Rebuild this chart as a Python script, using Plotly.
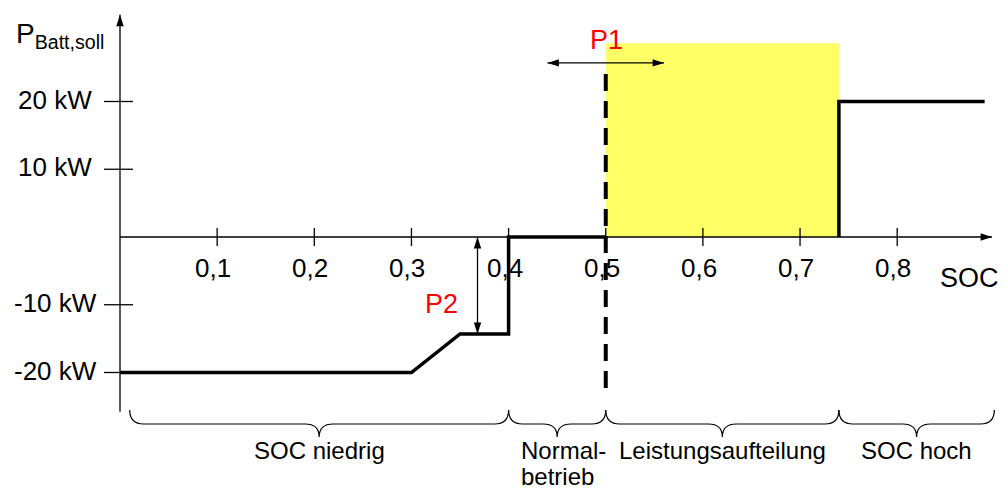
import plotly.graph_objects as go

# ---- data -------------------------------------------------------------
soc_low = [0.0, 0.30, 0.35, 0.40, 0.40, 0.50]
p_low = [-20, -20, -14.3, -14.3, 0, 0]
soc_high = [0.74, 0.74, 0.89]
p_high = [0, 20, 20]

x_ticks = [0.1, 0.2, 0.3, 0.4, 0.5, 0.6, 0.7, 0.8]
x_tick_labels = ["0,1", "0,2", "0,3", "0,4", "0,5", "0,6", "0,7", "0,8"]
y_ticks = [20, 10, -10, -20]
y_tick_labels = ["20 kW", "10 kW", "-10 kW", "-20 kW"]

zone_bounds = [0.01, 0.40, 0.50, 0.74, 0.90]
zone_names = ["SOC niedrig", "Normalbetrieb", "Leistungsaufteilung", "SOC hoch"]

split_band = [0.50, 0.74]      # power-split region
split_top = 28.6
p1_soc = 0.50                  # shiftable threshold P1
p1_span = [0.44, 0.56]
p1_level = 25.7
p2_soc = 0.368                 # reduced charge power P2
p2_span = [0.0, -14.3]

# ---- geometry -----------------------------------------------------------
W, H = 1005, 489
X0_PX, X_SCALE = 120, 971.5      # px of SOC=0, px per SOC unit
Y0_PX, Y_SCALE = 237, 6.775      # px of 0 kW, px per kW
x_range = [-X0_PX / X_SCALE, (W - X0_PX) / X_SCALE]
y_range = [-(H - Y0_PX) / Y_SCALE, Y0_PX / Y_SCALE]
x_end = 0.8976
y_bottom, y_top = -25.8, 32.8

FONT = "Liberation Sans, Arial, sans-serif"
RED = "#ff0000"


def dx(px):
    return px / X_SCALE


fig = go.Figure()


def arrow_line(xs, ys, heads, width=1.3, size=12):
    """Thin line with arrow markers; heads maps point index -> marker angle."""
    fig.add_trace(go.Scatter(x=xs, y=ys, mode="lines",
                             line=dict(color="black", width=width), hoverinfo="skip"))
    idx = list(heads)
    fig.add_trace(go.Scatter(x=[xs[i] for i in idx], y=[ys[i] for i in idx], mode="markers",
                             marker=dict(symbol="arrow", size=size, color="black",
                                         angle=[heads[i] for i in idx],
                                         line=dict(width=0)),
                             hoverinfo="skip"))


# coordinate axes
arrow_line([0, x_end], [0, 0], {1: 90}, size=12)
arrow_line([0, 0], [y_bottom, y_top], {1: 0}, size=12)

# step characteristic
fig.add_trace(go.Scatter(x=soc_low, y=p_low, mode="lines",
                         line=dict(color="black", width=3.5), hoverinfo="skip"))
fig.add_trace(go.Scatter(x=soc_high, y=p_high, mode="lines",
                         line=dict(color="black", width=3.5), hoverinfo="skip"))

# P1 and P2 double arrows
arrow_line(p1_span, [p1_level, p1_level], {0: 270, 1: 90}, width=1.3, size=12)
arrow_line([p2_soc, p2_soc], p2_span, {0: 0, 1: 180}, width=1.3, size=12)

shapes = []
# yellow power-split band
shapes.append(dict(type="rect", xref="x", yref="y", x0=split_band[0], x1=split_band[1],
                   y0=0, y1=split_top, fillcolor="#ffff66", line=dict(width=0), layer="below"))

# x ticks (crossing the axis)
for t in x_ticks:
    shapes.append(dict(type="line", xref="x", yref="y", x0=t, x1=t,
                       ysizemode="pixel", yanchor=0, y0=-9, y1=9,
                       line=dict(color="black", width=1.3)))
# y ticks
for t in y_ticks:
    shapes.append(dict(type="line", xref="x", yref="y", y0=t, y1=t,
                       xsizemode="pixel", xanchor=0, x0=-16, x1=13,
                       line=dict(color="black", width=1.3)))

# dashed threshold line at P1
shapes.append(dict(type="line", xref="x", yref="y", x0=p1_soc, x1=p1_soc,
                   y0=-22.3, y1=24.4, line=dict(color="black", width=4, dash="17px,10px")))


# curly braces under the axis
def brace(xa, xb):
    yt = -(410 - Y0_PX) / Y_SCALE
    ym = -(424 - Y0_PX) / Y_SCALE
    yp = -(437 - Y0_PX) / Y_SCALE
    r = dx(14)
    xm = (xa + xb) / 2
    return (f"M{xa},{yt} Q{xa},{ym} {xa + r},{ym} L{xm - r},{ym} "
            f"Q{xm},{ym} {xm},{yp} Q{xm},{ym} {xm + r},{ym} "
            f"L{xb - r},{ym} Q{xb},{ym} {xb},{yt}")


for a, b in zip(zone_bounds[:-1], zone_bounds[1:]):
    shapes.append(dict(type="path", xref="x", yref="y", path=brace(a, b),
                       line=dict(color="black", width=1.2)))

annotations = []

# tick labels
for t, lab in zip(x_ticks, x_tick_labels):
    annotations.append(dict(x=t, y=0, xref="x", yref="y", text=lab, showarrow=False,
                            xanchor="center", yanchor="middle", xshift=-4, yshift=-31,
                            font=dict(family=FONT, size=26, color="black")))
for t, lab in zip(y_ticks, y_tick_labels):
    annotations.append(dict(x=0, y=t, xref="x", yref="y", text=lab, showarrow=False,
                            xanchor="center", yanchor="middle", xshift=-65, yshift=2,
                            font=dict(family=FONT, size=26, color="black")))

# axis titles
annotations.append(dict(x=x_end, y=0, xref="x", yref="y", text="SOC", showarrow=False,
                        xanchor="center", yanchor="middle", xshift=-23, yshift=-41,
                        font=dict(family=FONT, size=27, color="black")))
annotations.append(dict(x=0, y=y_top, xref="x", yref="y", text="P<sub>Batt,soll</sub>",
                        showarrow=False, xanchor="left", yanchor="middle", xshift=-106, yshift=-21,
                        font=dict(family=FONT, size=28, color="black")))

# P1 / P2 labels
annotations.append(dict(x=p1_soc, y=p1_level, xref="x", yref="y", text="P1", showarrow=False,
                        xanchor="center", yanchor="middle", xshift=1, yshift=23,
                        font=dict(family=FONT, size=27, color=RED)))
annotations.append(dict(x=p2_soc, y=p2_span[1], xref="x", yref="y", text="P2", showarrow=False,
                        xanchor="center", yanchor="middle", xshift=-36, yshift=30,
                        font=dict(family=FONT, size=27, color=RED)))

# zone labels under the braces
zone_y = -(450 - Y0_PX) / Y_SCALE
for (a, b), name in zip(zip(zone_bounds[:-1], zone_bounds[1:]), zone_names):
    if name == "Normalbetrieb":
        for i, part in enumerate(["Normal-", "betrieb"]):
            annotations.append(dict(x=a, y=zone_y, xref="x", yref="y", text=part,
                                    showarrow=False, xanchor="left", yanchor="middle",
                                    xshift=10, yshift=-26 * i,
                                    font=dict(family=FONT, size=24, color="black")))
    else:
        annotations.append(dict(x=(a + b) / 2, y=zone_y, xref="x", yref="y", text=name,
                                showarrow=False, xanchor="center", yanchor="middle",
                                font=dict(family=FONT, size=24, color="black")))

fig.update_layout(
    width=W, height=H,
    margin=dict(l=0, r=0, t=0, b=0),
    paper_bgcolor="white", plot_bgcolor="white",
    showlegend=False,
    xaxis=dict(range=x_range, visible=False, fixedrange=True),
    yaxis=dict(range=y_range, visible=False, fixedrange=True),
    shapes=shapes, annotations=annotations,
)

fig.write_html("out.html")
